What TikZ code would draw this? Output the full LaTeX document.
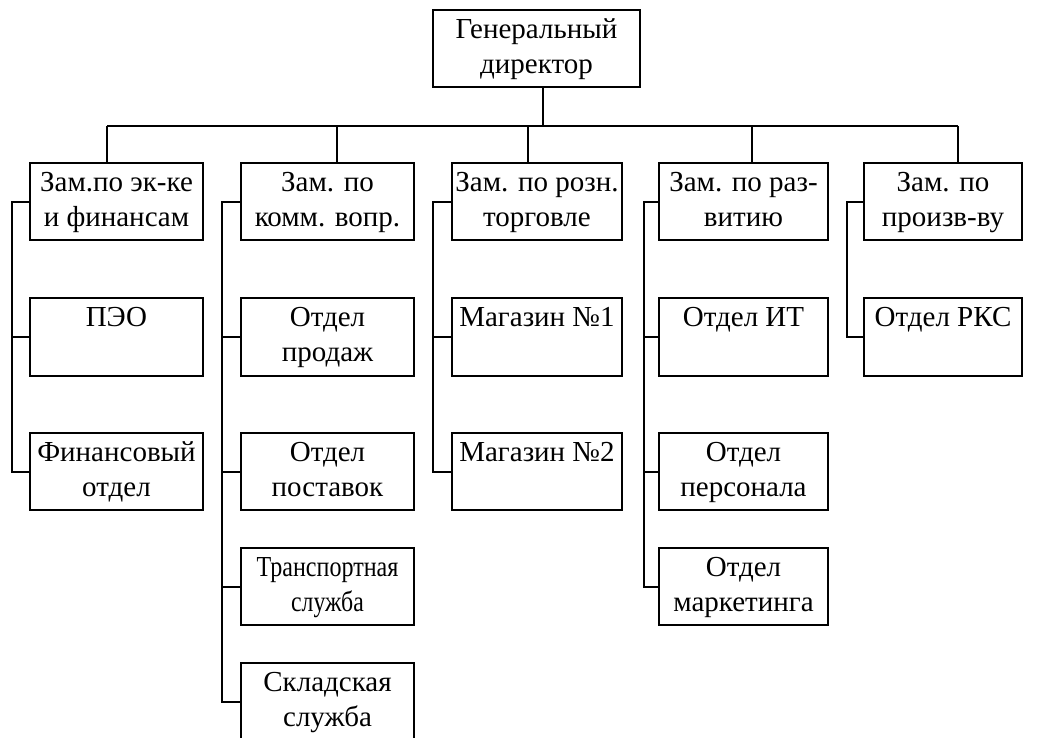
\documentclass[tikz,border=0pt]{standalone}
\usepackage{fontspec}
\setmainfont{Liberation Serif}
\usepackage{graphicx}
\usetikzlibrary{calc}
% box contents: fixed height, text hanging from the top edge
\newcommand\cell[2]{\parbox[c][77pt][t]{#1}{\centering\rule{0pt}{28pt}#2}}
\begin{document}
\begin{tikzpicture}[x=1pt,y=1pt,
  unit/.style={draw, line width=2pt, inner sep=0pt, font=\fontsize{29}{35}\selectfont},
  link/.style={line width=2pt}]
\useasboundingbox (0,0) rectangle (1037,-738);

% head
\node[unit] (gd) at (536.5,-49) {\cell{207pt}{Генеральный\\директор}};

% deputies
\node[unit] (z1) at (116.5,-202) {\cell{173pt}{Зам.по эк-ке\\и финансам}};
\node[unit] (z2) at (327.5,-202) {\cell{173pt}{Зам. по\\комм. вопр.}};
\node[unit] (z3) at (537,-202)   {\cell{170pt}{Зам. по розн.\\торговле}};
\node[unit] (z4) at (743.5,-202) {\cell{169pt}{Зам. по раз-\\витию}};
\node[unit] (z5) at (943,-202)   {\cell{158pt}{Зам. по\\произв-ву}};

% departments
\node[unit] (c1a) at (116.5,-337)   {\cell{173pt}{ПЭО}};
\node[unit] (c1b) at (116.5,-471.5) {\cell{173pt}{Финансовый\\отдел}};

\node[unit] (c2a) at (327.5,-337)   {\cell{173pt}{Отдел\\продаж}};
\node[unit] (c2b) at (327.5,-471.5) {\cell{173pt}{Отдел\\поставок}};
\node[unit] (c2c) at (327.5,-586.5) {\cell{173pt}{\scalebox{0.83}[1]{Транспортная}\\\scalebox{0.82}[1]{служба}}};
\node[unit] (c2d) at (327.5,-701.5) {\cell{173pt}{Складская\\служба}};

\node[unit] (c3a) at (537,-337)   {\cell{170pt}{Магазин №1}};
\node[unit] (c3b) at (537,-471.5) {\cell{170pt}{Магазин №2}};

\node[unit] (c4a) at (743.5,-337)   {\cell{169pt}{Отдел ИТ}};
\node[unit] (c4b) at (743.5,-471.5) {\cell{169pt}{Отдел\\персонала}};
\node[unit] (c4c) at (743.5,-586.5) {\cell{169pt}{Отдел\\маркетинга}};

\node[unit] (c5a) at (943,-337) {\cell{158pt}{Отдел РКС}};

% top-level bus
\coordinate (hub) at (543,-126);
\coordinate (d1) at (107,-126);
\coordinate (d2) at (337,-126);
\coordinate (d3) at (528,-126);
\coordinate (d4) at (752,-126);
\coordinate (d5) at (958,-126);
\draw[link] ([xshift=6.5]gd.south) -- (hub);
\draw[link] (d1) -- (d5);
\draw[link] (d1) -- (d1 |- z1.north);
\draw[link] (d2) -- (d2 |- z2.north);
\draw[link] (d3) -- (d3 |- z3.north);
\draw[link] (d4) -- (d4 |- z4.north);
\draw[link] (d5) -- (d5 |- z5.north);

% column spines
\coordinate (s1) at (12,-202);
\coordinate (s2) at (222,-202);
\coordinate (s3) at (433,-202);
\coordinate (s4) at (644,-202);
\coordinate (s5) at (847,-202);

\draw[link] (z1.west) -- (s1) |- (c1b.west);
\draw[link] (s1 |- c1a.west) -- (c1a.west);

\draw[link] (z2.west) -- (s2) |- (c2d.west);
\draw[link] (s2 |- c2a.west) -- (c2a.west);
\draw[link] (s2 |- c2b.west) -- (c2b.west);
\draw[link] (s2 |- c2c.west) -- (c2c.west);

\draw[link] (z3.west) -- (s3) |- (c3b.west);
\draw[link] (s3 |- c3a.west) -- (c3a.west);

\draw[link] (z4.west) -- (s4) |- (c4c.west);
\draw[link] (s4 |- c4a.west) -- (c4a.west);
\draw[link] (s4 |- c4b.west) -- (c4b.west);

\draw[link] (z5.west) -- (s5) |- (c5a.west);
\end{tikzpicture}
\end{document}
